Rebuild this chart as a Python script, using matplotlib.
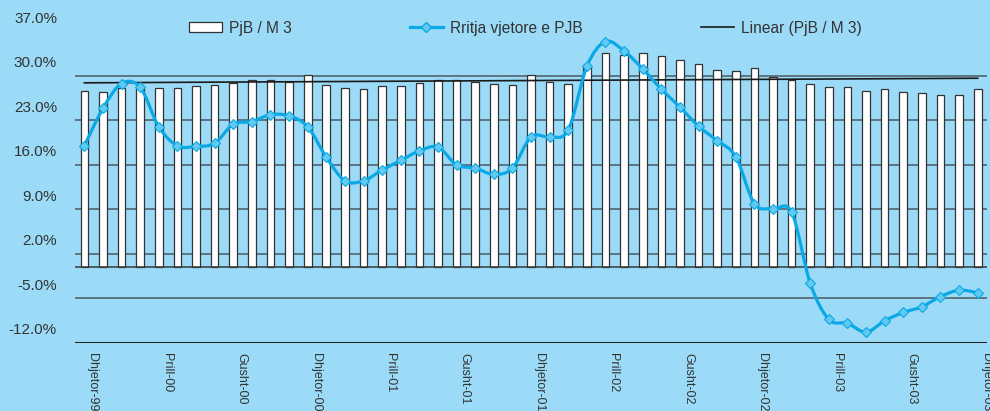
import numpy as np
import matplotlib
matplotlib.use('Agg')
import matplotlib.pyplot as plt
from matplotlib.path import Path
from matplotlib.patches import PathPatch, Patch
from matplotlib.lines import Line2D
from matplotlib.transforms import ScaledTranslation

# monthly data, Dhjetor-99 .. Dhjetor-03
pjb_m3 = [27.7, 27.5, 28.1, 28.1, 28.1, 28.1, 28.4, 28.6, 28.9, 29.4,
          29.4, 29.0, 30.1, 28.6, 28.1, 27.9, 28.4, 28.4, 28.9, 29.4,
          29.4, 29.1, 28.8, 28.6, 30.1, 29.0, 28.8, 31.6, 33.6, 33.3,
          33.6, 33.1, 32.5, 31.8, 31.0, 30.7, 31.2, 29.9, 29.4, 28.8,
          28.2, 28.2, 27.7, 27.9, 27.5, 27.3, 27.0, 27.0, 27.9]
rritja = [19.0, 24.9, 28.8, 28.2, 22.0, 19.0, 18.9, 19.4, 22.4, 22.8,
          23.9, 23.7, 22.0, 17.2, 13.5, 13.5, 15.2, 16.7, 18.2, 18.8,
          16.0, 15.5, 14.5, 15.5, 20.4, 20.4, 21.5, 31.5, 35.4, 33.9,
          31.1, 27.9, 25.1, 22.1, 19.8, 17.3, 9.9, 9.1, 8.6, -2.6,
          -8.3, -8.9, -10.3, -8.5, -7.2, -6.3, -4.7, -3.7, -4.1]
tick_labels = ['Dhjetor-99', 'Prill-00', 'Gusht-00', 'Dhjetor-00', 'Prill-01',
               'Gusht-01', 'Dhjetor-01', 'Prill-02', 'Gusht-02', 'Dhjetor-02',
               'Prill-03', 'Gusht-03', 'Dhjetor-03']
y_ticks = [-12, -5, 2, 9, 16, 23, 30, 37]

bg = '#9BDBF7'
blue = '#0AA9E6'
plt.rcParams['font.family'] = ['Liberation Sans', 'DejaVu Sans']

x = np.arange(len(pjb_m3))

fig = plt.figure(figsize=(9.9, 4.11), dpi=100, facecolor=bg)
ax = fig.add_axes([0.0758, 0.1655, 0.9212, 0.7582])
ax.set_facecolor(bg)

for v in y_ticks[1:-1]:
    ax.axhline(v, color='#4c5963', lw=1.1, zorder=1)
ax.axhline(-12, color='#222222', lw=2.2, zorder=1)

ax.bar(x, pjb_m3, width=0.41, color='white', edgecolor='#333333', lw=0.9, zorder=2)
ax.axhline(0, color='#3a3a3a', lw=1.1, zorder=3)

# linear trend of the bars
k, b = np.polyfit(x, pjb_m3, 1)
ax.plot([x[0], x[-1]], [k * x[0] + b, k * x[-1] + b], color='#1a1a1a', lw=1.2, zorder=4)

# smoothed line (catmull-rom -> bezier), markers at data points
pts = np.column_stack([x, rritja]).astype(float)
verts = [pts[0]]
codes = [Path.MOVETO]
n = len(pts)
for i in range(n - 1):
    p0 = pts[max(i - 1, 0)]
    p1 = pts[i]
    p2 = pts[i + 1]
    p3 = pts[min(i + 2, n - 1)]
    verts += [p1 + (p2 - p0) / 6, p2 - (p3 - p1) / 6, p2]
    codes += [Path.CURVE4] * 3
ax.add_patch(PathPatch(Path(verts, codes), fill=False, edgecolor=blue, lw=2.3, zorder=5))
ax.plot(x, rritja, ls='none', marker='D', ms=5, mfc='#62C9F0', mec=blue, mew=0.8, zorder=6)

ax.set_xlim(-0.5, 48.5)
ax.set_ylim(-12, 37)
for s in ax.spines.values():
    s.set_visible(False)

ax.set_yticks(y_ticks)
ax.set_yticklabels(['%.1f%%' % v for v in y_ticks])
ax.tick_params(axis='y', length=0, pad=13, labelsize=11, labelcolor='#333333')
for lab in ax.get_yticklabels():
    lab.set_transform(lab.get_transform() + ScaledTranslation(0, 0.14, fig.dpi_scale_trans))

ax.set_xticks(x[::4])
ax.set_xticklabels(tick_labels, rotation=270)
ax.tick_params(axis='x', length=0, pad=7, labelsize=9, labelcolor='#333333')
for lab in ax.get_xticklabels():
    lab.set_transform(lab.get_transform() + ScaledTranslation(0.08, 0, fig.dpi_scale_trans))

handles = [Patch(facecolor='white', edgecolor='#333333', lw=0.9),
           Line2D([], [], color=blue, lw=2.3, marker='D', ms=5, mfc='#62C9F0', mec=blue),
           Line2D([], [], color='#1a1a1a', lw=1.2)]
fig.legend(handles, ['PjB / M 3', 'Rritja vjetore e PJB', 'Linear (PjB / M 3)'],
           loc='center left', bbox_to_anchor=(181 / 990, 1 - 28 / 411), ncol=3,
           frameon=False, fontsize=11.2, borderpad=0, handlelength=2.13,
           handleheight=0.55, handletextpad=0.45, columnspacing=7.6,
           labelcolor='#333333')

fig.savefig('out.png', dpi=100, facecolor=bg)
